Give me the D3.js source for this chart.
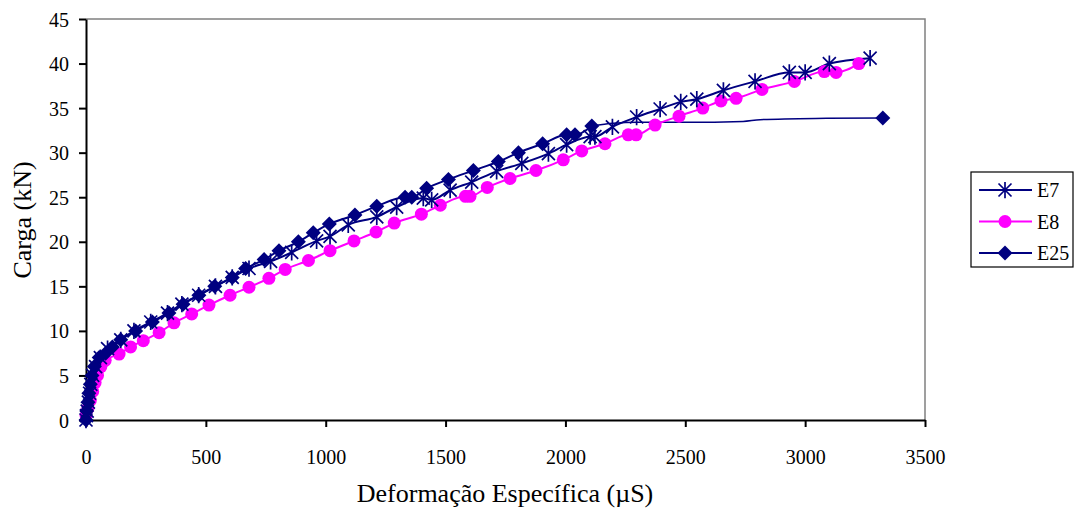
<!DOCTYPE html>
<html><head><meta charset="utf-8">
<script src="https://cdn.jsdelivr.net/npm/d3@7"></script>
<style>body{margin:0;background:#fff}svg{display:block}</style>
</head><body><svg id="c" width="1074" height="509"></svg>
<script>
const xTicks = [0,500,1000,1500,2000,2500,3000,3500];
const yTicks = [0,5,10,15,20,25,30,35,40,45];
const seriesNames = ["E7","E8","E25"];
const e7X = [0,2,5,10,15,20,28,40,60,90,145,200,270,340,400,470,540,610,680,770,858,962,1018,1094,1213,1296,1407,1442,1519,1609,1713,1818,1929,2005,2103,2123,2196,2297,2395,2481,2548,2659,2791,2934,3000,3101,3271];
const e7Y = [0,0.5,1,2,3,4,5,6,7,8,9,10,11,12,13,14,15,16,17,17.8,18.8,20.1,20.6,21.9,22.8,23.9,24.9,24.7,25.8,26.7,27.9,28.8,29.9,30.9,31.8,31.8,32.9,34.0,34.9,35.7,36.0,37.0,38.0,39.0,39.0,40.0,40.6];
const e8X = [0,8,18,28,38,48,62,80,138,186,239,305,367,441,513,601,680,763,831,928,1018,1118,1210,1286,1399,1478,1583,1602,1674,1769,1877,1991,2068,2165,2262,2295,2374,2474,2573,2649,2712,2820,2955,3080,3129,3224];
const e8Y = [0.5,1.3,2.2,3.2,4.2,5.0,6.0,6.7,7.4,8.2,8.9,9.8,10.9,11.9,12.9,14.0,14.9,15.9,16.9,17.9,19.0,20.1,21.1,22.1,23.1,24.1,25.1,25.1,26.1,27.1,28.0,29.2,30.2,31.0,32.0,32.0,33.1,34.1,35.0,35.8,36.1,37.1,38.0,39.1,39.0,40.0];
const e25X = [0,3,8,12,18,25,35,55,82,110,145,207,277,346,405,471,537,610,666,743,805,886,948,1015,1122,1213,1331,1359,1421,1512,1616,1720,1804,1905,2005,2040,2110];
const e25Y = [0,1,2,3,4,5,6,7,7.5,8.2,9,10,11,12,13,14,15,16,17,18,19,20,21,22,23,24,25,25,26,27,28,29,30,31,32,32,33];
const e25TailX = [2110,2200,2300,2500,2741,2812,3090,3324];
const e25TailY = [33,33.3,33.4,33.4,33.5,33.7,33.85,33.9];

const svg = d3.select("#c");
const x = d3.scaleLinear().domain([0,3500]).range([86,925]);
const y = d3.scaleLinear().domain([0,45]).range([420,19]);
const navy = "#000080", mag = "#FF00FF";
const FF = '"Liberation Serif"';

svg.append("path").attr("d",`M${x(0)},${y(45)}H${x(3500)}V${y(0)}`).attr("fill","none").attr("stroke","#808080").attr("stroke-width",1.5);

const ya = svg.append("g").attr("transform",`translate(${x(0)},0)`)
  .call(d3.axisLeft(y).tickValues(yTicks).tickFormat(d3.format("d")).tickSize(7).tickSizeOuter(0).tickPadding(10));
const xa = svg.append("g").attr("transform",`translate(0,${y(0)})`)
  .call(d3.axisBottom(x).tickValues(xTicks).tickFormat(d3.format("d")).tickSize(7).tickSizeOuter(0).tickPadding(23));
[ya,xa].forEach(a=>{
  a.selectAll("path,line").attr("stroke","#000").attr("stroke-width",2);
  a.selectAll("text").style("font-family",FF).style("font-size","20px").attr("fill","#000");});
ya.selectAll("text").attr("dy","0.35em");

svg.append("text").attr("transform","translate(31,220) rotate(-90)").attr("text-anchor","middle").style("font-family",FF).style("font-size","26px").text("Carga (kN)");
svg.append("text").attr("x",505).attr("y",502).attr("text-anchor","middle").style("font-family",FF).style("font-size","26px").text("Deformação Específica (µS)");

const zip=(a,b)=>a.map((v,i)=>[v,b[i]]);
const line = d3.line().x(d=>x(d[0])).y(d=>y(d[1])).curve(d3.curveMonotoneX);
const g = svg.append("g");
const e7=zip(e7X,e7Y), e8=zip(e8X,e8Y), e25=zip(e25X,e25Y), tail=zip(e25TailX,e25TailY);

function star(sel,cx,cy,r){
  const p=`M${cx-r},${cy-r}L${cx+r},${cy+r}M${cx+r},${cy-r}L${cx-r},${cy+r}M${cx},${cy-r*1.25}V${cy+r*1.25}`;
  sel.append("path").attr("d",p).attr("stroke",navy).attr("stroke-width",1.7).attr("fill","none");
}
function diamond(sel,cx,cy,r){
  sel.append("path").attr("d",`M${cx},${cy-r}L${cx+r},${cy}L${cx},${cy+r}L${cx-r},${cy}Z`).attr("fill",navy);
}
function circ(sel,cx,cy,r){ sel.append("circle").attr("cx",cx).attr("cy",cy).attr("r",r).attr("fill",mag); }

g.append("path").datum(e25).attr("d",line).attr("fill","none").attr("stroke",navy).attr("stroke-width",2);
g.append("path").datum(tail).attr("d",line).attr("fill","none").attr("stroke",navy).attr("stroke-width",1.5);
g.append("path").datum(e8).attr("d",line).attr("fill","none").attr("stroke",mag).attr("stroke-width",2);
g.append("path").datum(e7).attr("d",line).attr("fill","none").attr("stroke",navy).attr("stroke-width",2);
e8.forEach(d=>circ(g,x(d[0]),y(d[1]),6.5));
e25.forEach(d=>diamond(g,x(d[0]),y(d[1]),7.5));
diamond(g,x(tail[tail.length-1][0]),y(tail[tail.length-1][1]),7.5);
e7.forEach(d=>star(g,x(d[0]),y(d[1]),6.5));

const lg = svg.append("g");
lg.append("rect").attr("x",971).attr("y",172).attr("width",102).attr("height",95).attr("fill","#fff").attr("stroke","#000").attr("stroke-width",1.2);
const ly=[190,221.5,253];
seriesNames.forEach((n,i)=>{
  const c = i===1?mag:navy;
  lg.append("line").attr("x1",979).attr("x2",1032).attr("y1",ly[i]).attr("y2",ly[i]).attr("stroke",c).attr("stroke-width",2);
  if(i===0) star(lg,1005,ly[i],6.5); else if(i===1) circ(lg,1005,ly[i],6.5); else diamond(lg,1005,ly[i],7.5);
  lg.append("text").attr("x",1037).attr("y",ly[i]+7).style("font-family",FF).style("font-size","20px").text(n);
});
</script></body></html>
